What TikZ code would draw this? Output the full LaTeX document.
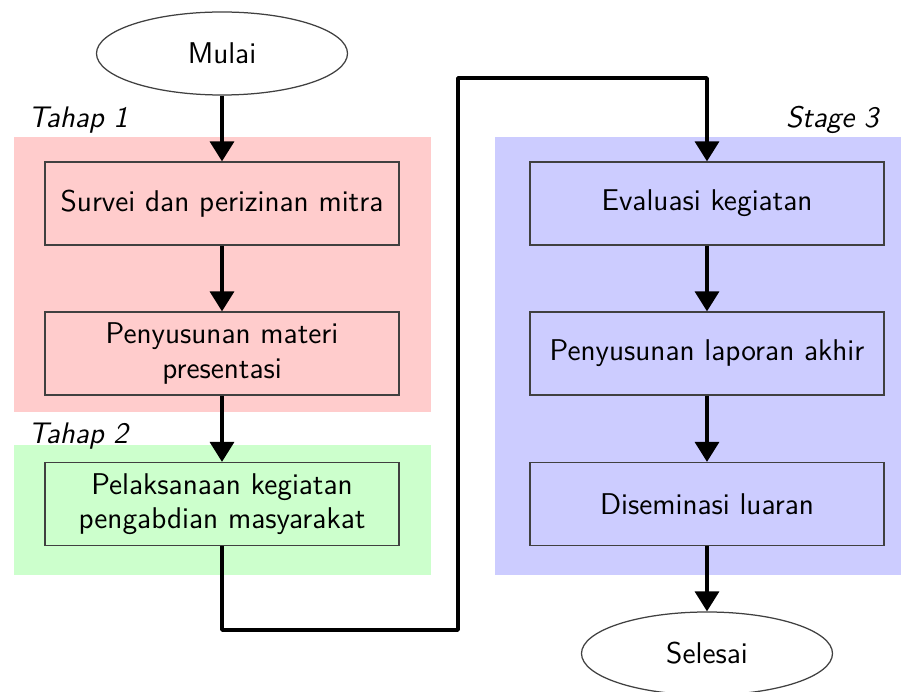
\documentclass[tikz,border=0pt]{standalone}
\usetikzlibrary{arrows.meta,shapes.geometric}
\begin{document}
\begin{tikzpicture}[x=0.4pt,y=-0.4pt,
  font=\sffamily\fontsize{12pt}{13.8pt}\selectfont,
  bgpink/.style={fill=red!20,draw=none},
  bggreen/.style={fill=green!20,draw=none},
  bgblue/.style={fill=blue!20,draw=none},
  procbox/.style={draw=black!75,line width=0.5pt,minimum width=141.6pt,minimum height=33.2pt,align=center,inner sep=2pt},
  term/.style={ellipse,draw=black!75,line width=0.5pt,fill=white,minimum width=100.4pt,minimum height=33.2pt,inner sep=0pt},
  stagelabel/.style={font=\sffamily\itshape\fontsize{11.9pt}{14pt}\selectfont,inner sep=0pt},
  arr/.style={line width=1.4pt,line join=round,-{Triangle[width=9.6pt,length=8pt]}}
  ]
\useasboundingbox (0,0) rectangle (901,692);
\fill[white] (0,0) rectangle (901,692);
% backgrounds
\path[bgpink] (14,137) rectangle (431,412);
\path[bggreen] (14,445) rectangle (431,575);
\path[bgblue] (495,137) rectangle (901,575);
% stage labels
\node[stagelabel,anchor=base west] (t1) at (28,128) {Tahap 1};
\node[stagelabel,anchor=base west] (t2) at (28,444) {Tahap 2};
\node[stagelabel,anchor=base east] (t3) at (879,128) {Stage 3};
% nodes
\node[term] (mulai) at (222,53.5) {Mulai};
\node[procbox,fill=red!20] (b1) at (222,203.5) {Survei dan perizinan mitra};
\node[procbox,fill=red!20] (b2) at (222,353.5) {Penyusunan materi\\presentasi};
\node[procbox,fill=green!20] (b3) at (222,504) {Pelaksanaan kegiatan\\pengabdian masyarakat};
\node[procbox,fill=blue!20] (b4) at (707,203.5) {Evaluasi kegiatan};
\node[procbox,fill=blue!20] (b5) at (707,353.5) {Penyusunan laporan akhir};
\node[procbox,fill=blue!20] (b6) at (707,504) {Diseminasi luaran};
\node[term] (selesai) at (707,653.5) {Selesai};
% route coordinates
\coordinate (c1) at (222,630);
\coordinate (c2) at (458,630);
\coordinate (c3) at (458,78);
\coordinate (c4) at (707,78);
% connectors
\draw[arr] (mulai) -- (b1);
\draw[arr] (b1) -- (b2);
\draw[arr] (b2) -- (b3);
\draw[arr] (b3.south) -- (c1) -- (c2) -- (c3) -- (c4) -- (b4.north);
\draw[arr] (b4) -- (b5);
\draw[arr] (b5) -- (b6);
\draw[arr] (b6) -- (selesai);
\end{tikzpicture}
\end{document}
